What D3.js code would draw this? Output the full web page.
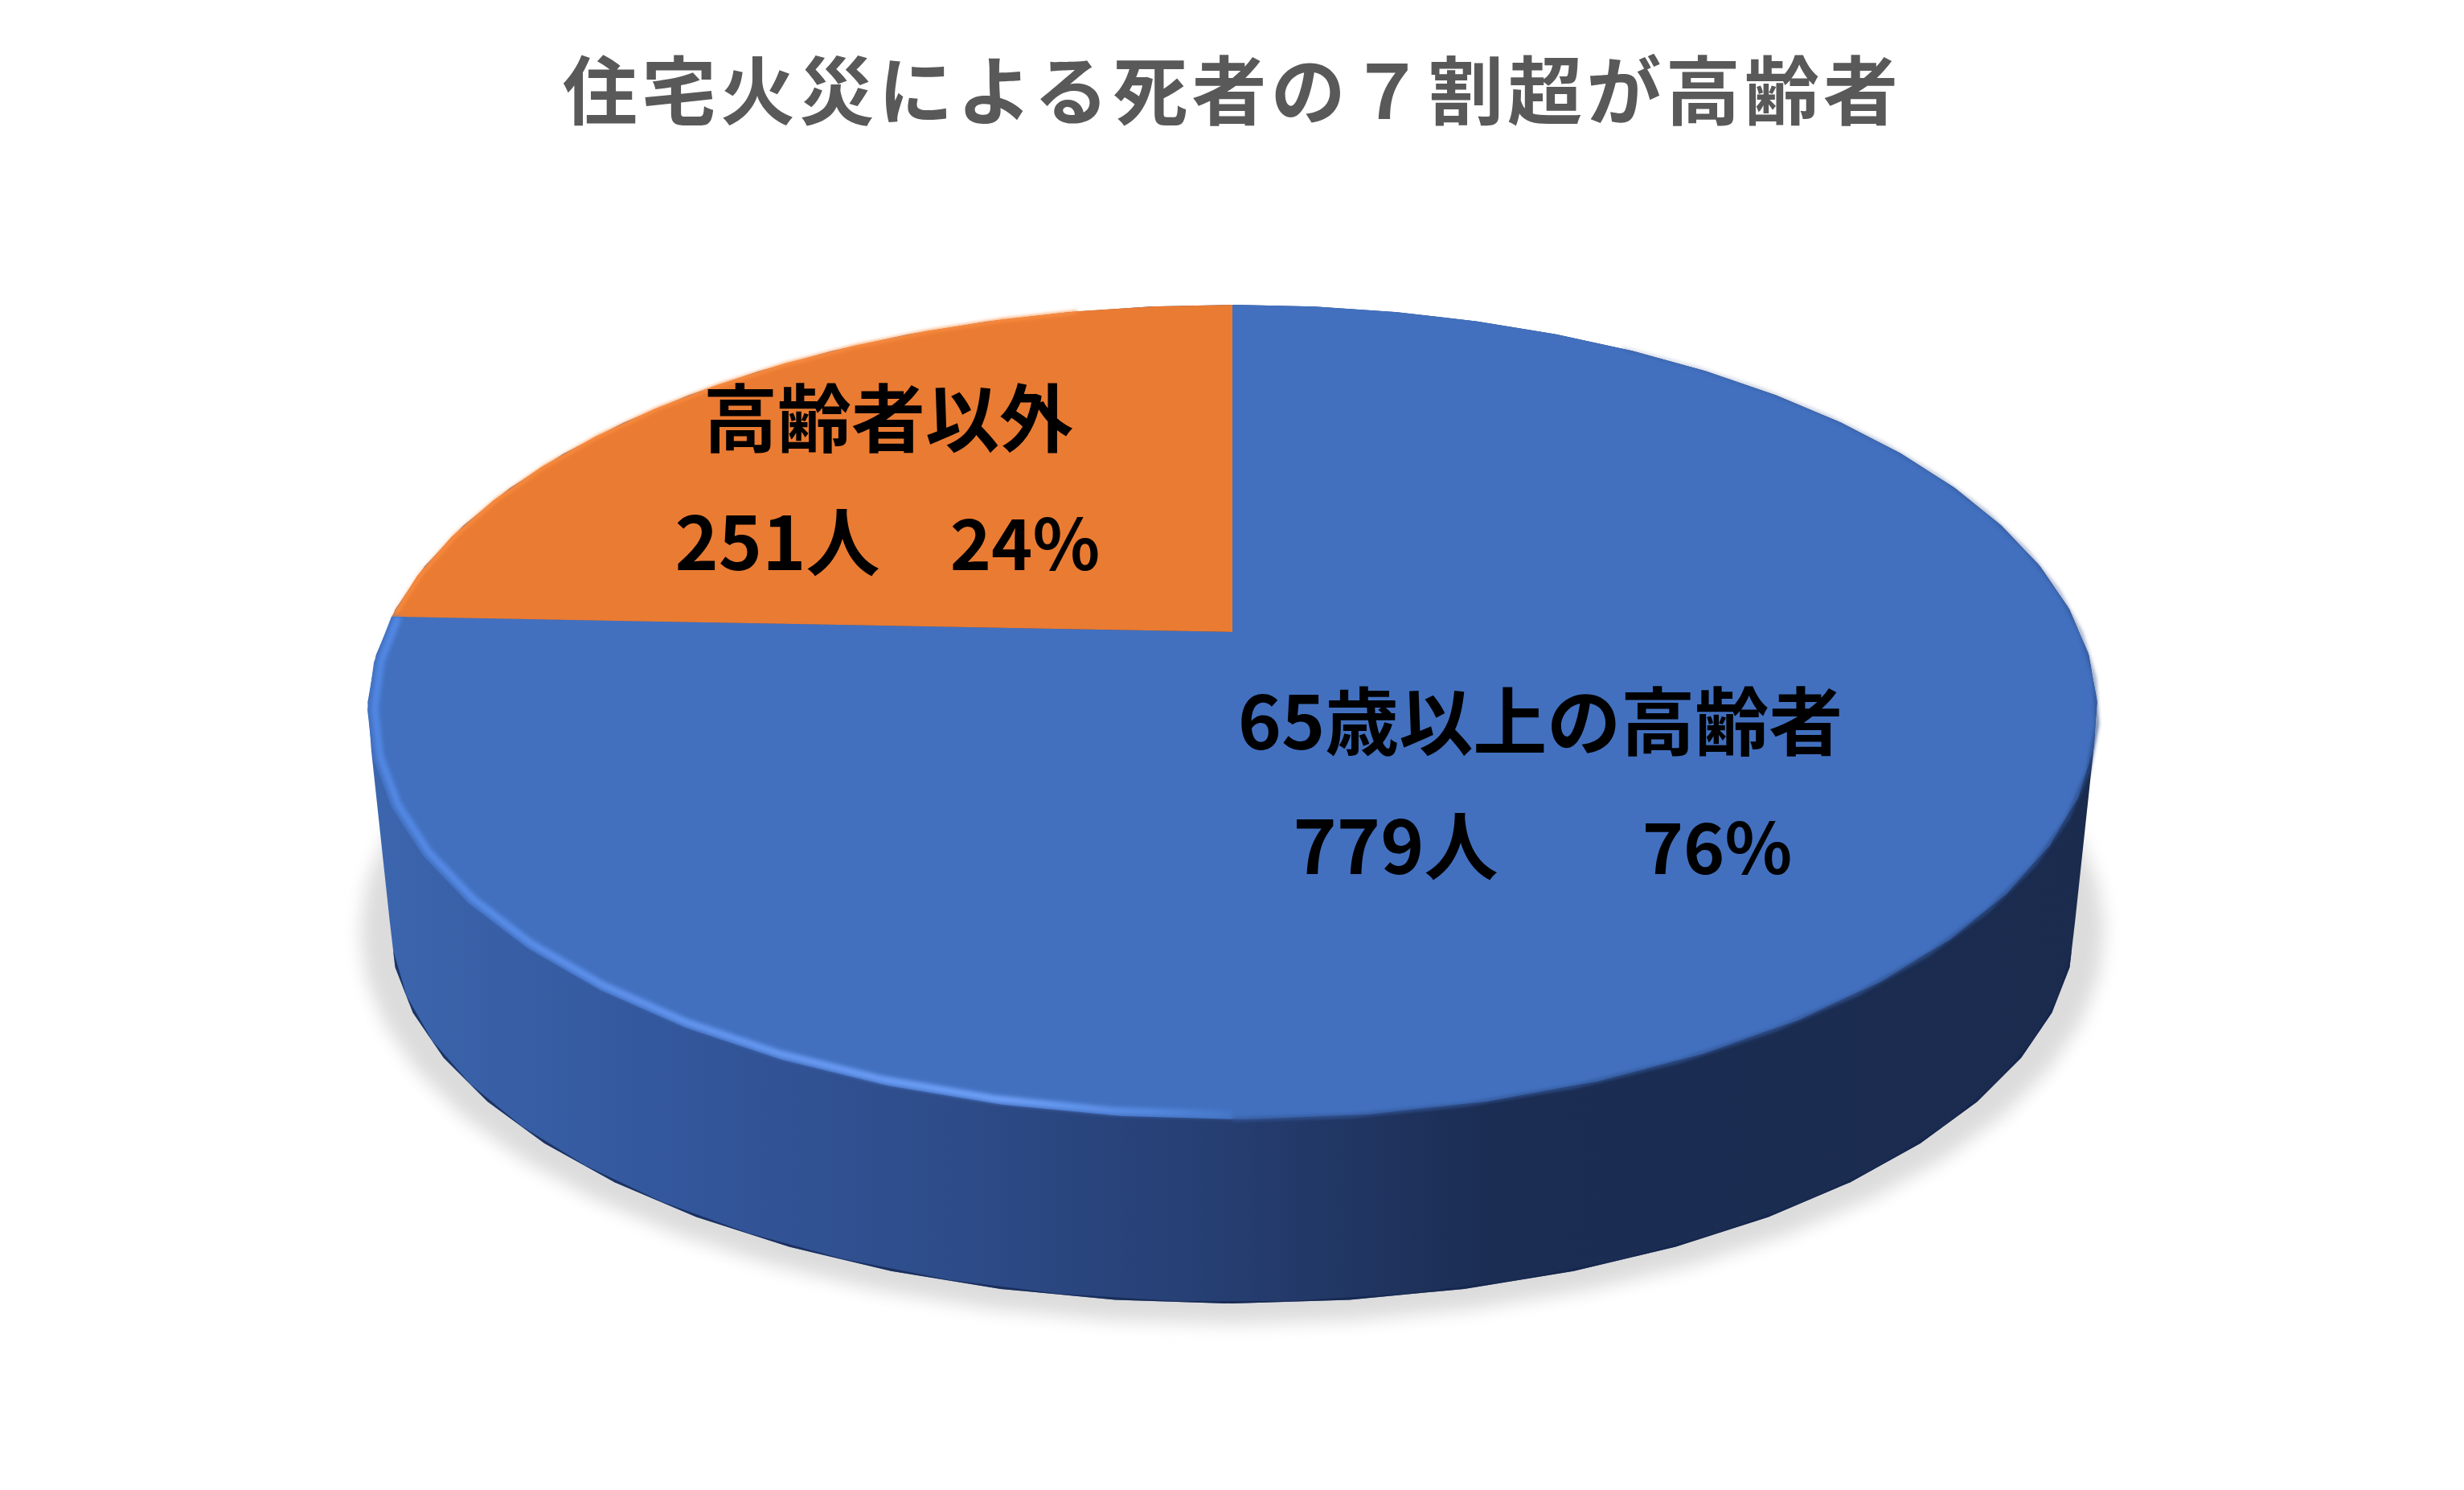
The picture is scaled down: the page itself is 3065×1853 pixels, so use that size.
<!DOCTYPE html>
<html>
<head>
<meta charset="utf-8">
<script src="https://cdnjs.cloudflare.com/ajax/libs/d3/7.8.5/d3.min.js"></script>
<style>
html,body{margin:0;padding:0;background:#fff}
text{font-family:"Noto Sans CJK JP","Noto Sans",sans-serif;font-weight:700;white-space:pre}
</style>
</head>
<body>
<svg id="chart" width="3065" height="1853"></svg>
<script>
const title = "住宅火災による死者の７割超が高齢者"
const categories = ["65歳以上の高齢者", "高齢者以外"]
const deaths = [779, 251]
const percents = [76, 24]
const sliceColors = ["#4270bf", "#ea7b32"]

const width = 3065, height = 1853
// perspective of the tilted disc: top face and bottom face
const topFace = {cx: 1533, cy: 786, R: 1055, S: 487, k: 0.1965}
const bottomFace = {cx: 1533, cy: 1065, R: 1031, S: 456, k: 0.18}

function project(face, a, rho = 1) {
    let u = Math.sin(a) * rho, v = -Math.cos(a) * rho
    let w = 1 - face.k * v
    return [face.cx + face.R * u / w, face.cy + face.S * v / w]
}
function edge(face, a0, a1, step, rho = 1) {
    let n = Math.ceil(Math.abs(a1 - a0) / step)
    return d3.range(n + 1).map(i => project(face, a0 + (a1 - a0) * i / n, rho))
}

const svg = d3.select("#chart")
const defs = svg.append("defs")
const line = d3.line()
const step = 2 * Math.PI / 54

function blur(id, dev) {
    defs.append("filter").attr("id", id)
        .attr("x", "-10%").attr("y", "-10%").attr("width", "120%").attr("height", "120%")
        .append("feGaussianBlur").attr("stdDeviation", dev)
}
blur("shadowBlur", 11)
blur("rimBlur", 2.6)
blur("edgeBlur", 2)

function gradient(id, stops) {
    let g = defs.append("linearGradient").attr("id", id)
        .attr("gradientUnits", "userSpaceOnUse")
        .attr("x1", 450).attr("x2", 2620).attr("y1", 0).attr("y2", 0)
    stops.forEach(s => g.append("stop").attr("offset", (s[0] - 450) / 2170).attr("stop-color", s[1]))
}
gradient("sideFill", [[450, "#3c66ae"], [800, "#34589e"], [1200, "#2d4b88"], [1500, "#263f73"], [1850, "#1b2d53"], [2620, "#1a2b4e"]])
gradient("rimFill", [[450, "#5086e2"], [900, "#6496f0"], [1250, "#6ea0f8"], [1450, "#5186dc"], [1560, "#4270bf"], [2620, "#4270bf"]])

// right edge goes from a faint line at the far side to a soft dark seam at the front
let edgeGrad = defs.append("linearGradient").attr("id", "edgeFill")
    .attr("gradientUnits", "userSpaceOnUse").attr("x1", 0).attr("x2", 0).attr("y1", 450).attr("y2", 1392)
edgeGrad.append("stop").attr("offset", 0).attr("stop-color", "#2a4a86").attr("stop-opacity", 0.25)
edgeGrad.append("stop").attr("offset", 0.42).attr("stop-color", "#2a4a86").attr("stop-opacity", 0.6)
edgeGrad.append("stop").attr("offset", 0.5).attr("stop-color", "#2a4a86").attr("stop-opacity", 1)
edgeGrad.append("stop").attr("offset", 1).attr("stop-color", "#34589a").attr("stop-opacity", 1)

let pie = d3.pie().sort(null)(deaths)

// soft shadow under the disc
let bottomAll = edge(bottomFace, 0, 2 * Math.PI, step)
let shadow = edge({...bottomFace, R: bottomFace.R * 1.035, S: bottomFace.S * 1.035, cy: bottomFace.cy + 6}, 0, 2 * Math.PI, step)
svg.append("path").attr("d", line(shadow) + "Z").attr("fill", "#dcdcdc").attr("filter", "url(#shadowBlur)")

// side wall is the outline around both faces
let hull = d3.polygonHull(bottomAll.concat(edge(topFace, 0, 2 * Math.PI, step)))
defs.append("clipPath").attr("id", "sideClip").append("path").attr("d", line(hull) + "Z")
svg.append("path").attr("d", line(hull) + "Z").attr("fill", "url(#sideFill)")
svg.append("path").attr("d", line(edge(bottomFace, Math.PI * 0.58, Math.PI * 1.42, step)))
    .attr("fill", "none").attr("stroke", "#14264e").attr("stroke-width", 4)
    .attr("clip-path", "url(#sideClip)").attr("opacity", 0.75)

// top face
svg.append("g").selectAll("path").data(pie).join("path")
    .attr("d", d => {
        let pts = edge(topFace, d.startAngle, d.endAngle, step)
        pts.push(project(topFace, 0, 0))
        return line(pts) + "Z"
    })
    .attr("fill", (d, i) => sliceColors[i])

// bevel: seam on the right, bright band on the left
svg.append("path").attr("d", line(edge(topFace, Math.PI * 0.18, Math.PI, step)))
    .attr("fill", "none").attr("stroke", "url(#edgeFill)").attr("stroke-width", 4)
    .attr("filter", "url(#edgeBlur)")
svg.append("path").attr("d", line(edge(topFace, pie[0].endAngle, Math.PI, step, 0.992)))
    .attr("fill", "none").attr("stroke", "url(#rimFill)").attr("stroke-width", 9)
    .attr("filter", "url(#rimBlur)")
svg.append("path").attr("d", line(edge(topFace, pie[1].endAngle - 0.22, pie[1].startAngle + 0.01, step, 0.997)))
    .attr("fill", "none").attr("stroke", "#fb8f42").attr("stroke-width", 4).attr("filter", "url(#edgeBlur)")

// texts
svg.append("text").attr("x", 1533).attr("y", 148)
    .attr("text-anchor", "middle").attr("font-size", 93).attr("letter-spacing", 5.2)
    .attr("fill", "#595959").text(title)

// x of name, count, percent and y of the two rows
const labelX = [[1916, 1736, 2136], [1105, 967, 1275]]
const labelY = [[932, 1087], [555, 709]]
categories.forEach((c, i) => {
    let g = svg.append("g").attr("text-anchor", "middle").attr("font-size", 92).attr("fill", "#000")
    g.append("text").attr("x", labelX[i][0]).attr("y", labelY[i][0]).text(c)
    g.append("text").attr("x", labelX[i][1]).attr("y", labelY[i][1]).text(`${deaths[i]}人`)
    g.append("text").attr("x", labelX[i][2]).attr("y", labelY[i][1]).attr("font-size", 87).text(`${percents[i]}%`)
})
</script>
</body>
</html>
